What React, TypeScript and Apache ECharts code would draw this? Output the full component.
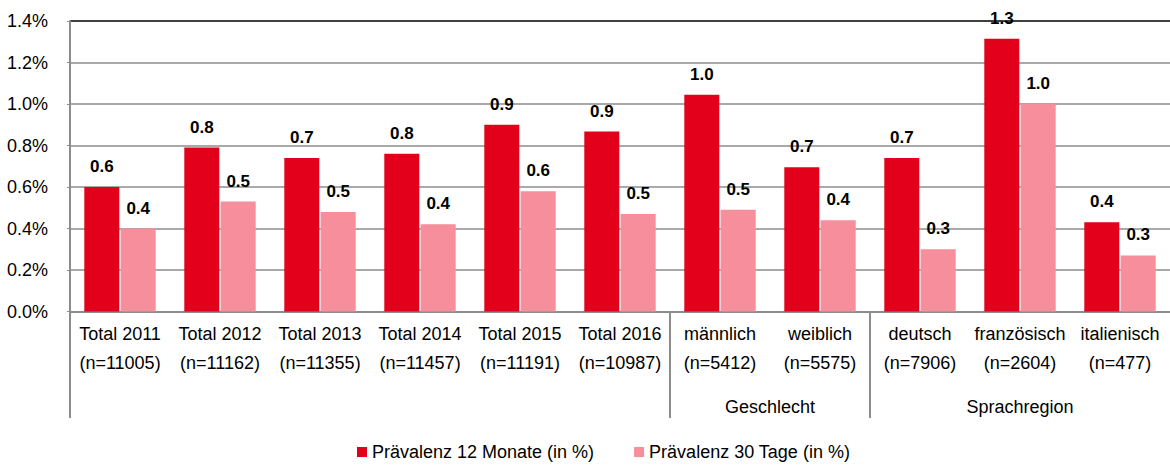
import React, { useEffect, useRef } from "react";
import * as echarts from "echarts";

const categories = [
  "Total 2011\n(n=11005)",
  "Total 2012\n(n=11162)",
  "Total 2013\n(n=11355)",
  "Total 2014\n(n=11457)",
  "Total 2015\n(n=11191)",
  "Total 2016\n(n=10987)",
  "männlich\n(n=5412)",
  "weiblich\n(n=5575)",
  "deutsch\n(n=7906)",
  "französisch\n(n=2604)",
  "italienisch\n(n=477)",
];

const prev12 = [0.6, 0.79, 0.74, 0.76, 0.9, 0.867, 1.045, 0.695, 0.74, 1.315, 0.43];
const prev30 = [0.4, 0.53, 0.48, 0.42, 0.58, 0.47, 0.49, 0.44, 0.3, 1.0, 0.27];

const seriesNames = ["Prävalenz 12 Monate (in %)", "Prävalenz 30 Tage (in %)"];
const yTicks = [0, 0.2, 0.4, 0.6, 0.8, 1.0, 1.2, 1.4];

const groups = [
  { name: "", start: 0, end: 5 },
  { name: "Geschlecht", start: 6, end: 7 },
  { name: "Sprachregion", start: 8, end: 10 },
];

const FONT = "'Liberation Sans', Arial, sans-serif";
const RED = "#E2001A";
const PINK = "#F68E9B";
const GRID = "#8c8c8c";

export default function App() {
  const ref = useRef<HTMLDivElement>(null);
  useEffect(() => {
    document.body.style.margin = "0";
    const chart = echarts.init(ref.current!, null, { renderer: "svg" });
    const labelCfg = {
      show: true,
      position: "top",
      distance: 12,
      fontFamily: FONT,
      fontSize: 17,
      fontWeight: "bold",
      color: "#000",
      formatter: (p: any) => Number(p.value).toFixed(1),
    };
    const splitColors = yTicks.map((_, i) => (i === yTicks.length - 1 ? "#000" : GRID));
    chart.setOption({
      animation: false,
      textStyle: { fontFamily: FONT },
      grid: { left: 70, top: 21, width: 1108, height: 290.5, containLabel: false },
      legend: {
        left: 352,
        top: 438,
        icon: "rect",
        itemWidth: 10,
        itemHeight: 10,
        itemGap: 40,
        textStyle: { fontFamily: FONT, fontSize: 18, color: "#000" },
        data: seriesNames,
      },
      xAxis: {
        type: "category",
        data: categories,
        axisLine: { show: true, lineStyle: { color: GRID, width: 2 } },
        axisTick: { show: false },
        axisLabel: {
          interval: 0,
          margin: 8,
          fontFamily: FONT,
          fontSize: 18,
          lineHeight: 29,
          color: "#000",
        },
      },
      yAxis: {
        type: "value",
        min: 0,
        max: 1.4,
        interval: 0.2,
        axisLine: { show: true, lineStyle: { color: GRID, width: 2 } },
        axisTick: { show: true, length: 3, lineStyle: { color: GRID } },
        axisLabel: {
          margin: 22,
          fontFamily: FONT,
          fontSize: 18,
          color: "#000",
          formatter: (v: number) => v.toFixed(1) + "%",
        },
        splitLine: { show: true, lineStyle: { color: splitColors, width: 1.6 } },
      },
      series: [
        {
          name: seriesNames[0],
          type: "bar",
          data: prev12,
          barWidth: 35,
          barGap: "4%",
          itemStyle: { color: RED },
          label: labelCfg,
        },
        {
          name: seriesNames[1],
          type: "bar",
          data: prev30,
          barWidth: 35,
          barGap: "4%",
          itemStyle: { color: PINK },
          label: labelCfg,
        },
      ],
    });

    const px = (i: number) => chart.convertToPixel({ xAxisIndex: 0 }, categories[i]) as number;
    const step = px(1) - px(0);
    const x0 = px(0) - step / 2;
    const yBase = chart.convertToPixel({ yAxisIndex: 0 }, 0) as number;
    const yEnd = 418;
    const elements: any[] = [
      {
        type: "line",
        shape: { x1: x0, y1: yBase, x2: x0, y2: yEnd },
        style: { stroke: GRID, lineWidth: 2 },
      },
    ];
    groups.forEach((g) => {
      const left = px(g.start) - step / 2;
      const right = px(g.end) + step / 2;
      if (g.start > 0) {
        elements.push({
          type: "line",
          shape: { x1: left, y1: yBase, x2: left, y2: yEnd },
          style: { stroke: GRID, lineWidth: 2 },
        });
      }
      if (g.name) {
        elements.push({
          type: "text",
          x: (left + right) / 2,
          y: 407,
          style: {
            text: g.name,
            fontFamily: FONT,
            fontSize: 18,
            fill: "#000",
            align: "center",
            verticalAlign: "middle",
          },
        });
      }
    });
    chart.setOption({ graphic: elements });
    return () => chart.dispose();
  }, []);
  return <div ref={ref} style={{ width: 1170, height: 466 }} />;
}
